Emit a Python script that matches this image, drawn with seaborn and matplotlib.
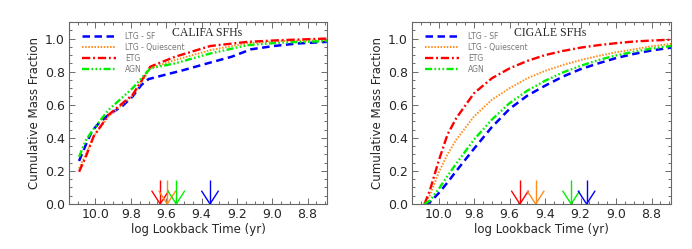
import numpy as np
import pandas as pd
import matplotlib
matplotlib.use("Agg")
import matplotlib.pyplot as plt
from matplotlib.ticker import MultipleLocator
import seaborn as sns

sns.set_style("ticks")
plt.rcParams['font.family'] = ['DejaVu Sans']

# ---------------- data ----------------
series_names = ["LTG - SF", "LTG - Quiescent", "ETG", "AGN"]
series_colors = ["#0000FF", "#FF8C1A", "#FF0000", "#00EE00"]

# CALIFA (left panel)
califa_x = {
    "LTG - SF":        [10.093, 10.05, 10.02, 9.98, 9.925, 9.85, 9.79, 9.74, 9.70, 9.61, 9.50, 9.35, 9.23, 9.12, 8.99, 8.86, 8.69],
    "LTG - Quiescent": [10.093, 10.055, 10.01, 9.925, 9.79, 9.69, 9.55, 9.35, 9.14, 8.96, 8.69],
    "ETG":             [10.093, 10.055, 10.01, 9.925, 9.79, 9.69, 9.55, 9.35, 9.14, 8.96, 8.69],
    "AGN":             [10.093, 10.055, 10.01, 9.925, 9.79, 9.69, 9.55, 9.35, 9.14, 8.96, 8.69],
}
califa_y = {
    "LTG - SF":        [0.26, 0.37, 0.44, 0.49, 0.54, 0.59, 0.65, 0.72, 0.755, 0.78, 0.81, 0.855, 0.89, 0.935, 0.955, 0.97, 0.98],
    "LTG - Quiescent": [0.215, 0.30, 0.41, 0.53, 0.655, 0.82, 0.87, 0.93, 0.972, 0.985, 0.99],
    "ETG":             [0.195, 0.285, 0.41, 0.54, 0.66, 0.83, 0.89, 0.955, 0.98, 0.99, 1.0],
    "AGN":             [0.285, 0.385, 0.455, 0.57, 0.70, 0.82, 0.85, 0.91, 0.96, 0.975, 0.985],
}
califa_arrows = [9.634, 9.594, 9.543, 9.352]  # order: ETG, LTG-Q, AGN, LTG-SF
califa_arrow_names = ["ETG", "LTG - Quiescent", "AGN", "LTG - SF"]

# CIGALE (right panel)
cigale_xgrid = [10.08, 10.05, 10.0, 9.95, 9.9, 9.8, 9.7, 9.6, 9.5, 9.4, 9.3, 9.2, 9.1, 9.0, 8.9, 8.8, 8.69]
cigale_y = {
    "LTG - SF":        [0.0, 0.01, 0.065, 0.13, 0.20, 0.335, 0.465, 0.575, 0.655, 0.715, 0.77, 0.815, 0.85, 0.882, 0.907, 0.928, 0.945],
    "LTG - Quiescent": [0.0, 0.05, 0.19, 0.30, 0.39, 0.53, 0.63, 0.70, 0.76, 0.805, 0.84, 0.87, 0.895, 0.917, 0.935, 0.953, 0.968],
    "ETG":             [0.0, 0.08, 0.26, 0.42, 0.52, 0.67, 0.76, 0.82, 0.865, 0.90, 0.925, 0.945, 0.96, 0.972, 0.982, 0.988, 0.993],
    "AGN":             [0.0, 0.02, 0.09, 0.17, 0.245, 0.39, 0.51, 0.61, 0.685, 0.745, 0.795, 0.835, 0.87, 0.898, 0.92, 0.94, 0.955],
}
cigale_arrows = [9.542, 9.453, 9.253, 9.166]
cigale_arrow_names = ["ETG", "LTG - Quiescent", "AGN", "LTG - SF"]

titles = ["CALIFA SFHs", "CIGALE SFHs"]
xticks = [10.0, 9.8, 9.6, 9.4, 9.2, 9.0, 8.8]
yticks = [0.0, 0.2, 0.4, 0.6, 0.8, 1.0]

# ---------------- style ----------------
styles = {
    "LTG - SF": dict(lw=1.8, dashes=(3.0, 1.8)),
    "LTG - Quiescent": dict(lw=1.4, dashes=(0.8, 0.8)),
    "ETG": dict(lw=1.7, dashes=(3.5, 1.2, 0.8, 1.2)),
    "AGN": dict(lw=1.7, dashes=(3.0, 1.0, 0.7, 1.0, 0.7, 1.0, 0.7, 1.0)),
}
color_of = dict(zip(series_names, series_colors))

fig = plt.figure(figsize=(6.92, 2.49), dpi=100)
ax1 = fig.add_axes([0.0997, 0.1807, 0.3728, 0.7309])
ax2 = fig.add_axes([0.5954, 0.1807, 0.3743, 0.7309])

arrow_top = 0.145
wing_dx = 0.047
wing_dy = 0.078


def draw_panel(ax, xs_of, ys_of, arrows, arrow_names, title):
    for name in series_names:
        df = pd.DataFrame({"x": xs_of[name], "y": ys_of[name]})
        sns.lineplot(data=df, x="x", y="y", ax=ax, color=color_of[name],
                     label=name, sort=False, estimator=None,
                     linewidth=styles[name]["lw"])
        ln = ax.lines[-1]
        ln.set_dashes(styles[name]["dashes"])
    for xa, nm in zip(arrows, arrow_names):
        c = color_of[nm]
        ax.plot([xa, xa], [0, arrow_top], color=c, lw=1.0, solid_capstyle='butt')
        ax.plot([xa + wing_dx, xa, xa - wing_dx], [wing_dy, 0, wing_dy], color=c, lw=1.0)
    ax.set_xlim(10.15, 8.69)
    ax.set_ylim(0.0, 1.1)
    ax.set_xticks(xticks)
    ax.set_yticks(yticks)
    ax.set_xticklabels([f"{t:.1f}" for t in xticks])
    ax.set_yticklabels([f"{t:.1f}" for t in yticks])
    ax.xaxis.set_minor_locator(MultipleLocator(0.05))
    ax.yaxis.set_minor_locator(MultipleLocator(0.05))
    ax.tick_params(which='both', direction='in', top=True, right=True,
                   width=0.6, color='#555555', labelsize=9, pad=3)
    ax.tick_params(which='major', length=4)
    ax.tick_params(which='minor', length=2)
    for sp in ax.spines.values():
        sp.set_visible(True)
        sp.set_linewidth(0.8)
        sp.set_color('#666666')
    ax.set_xlabel("log Lookback Time (yr)", fontsize=8.5, labelpad=1)
    ax.set_ylabel("Cumulative Mass Fraction", fontsize=8.5, labelpad=3)
    ax.text(0.535, 0.94, title, transform=ax.transAxes, ha='center', va='center',
            fontsize=8.5, family='Liberation Serif')
    leg = ax.legend(loc='upper left', bbox_to_anchor=(0.052, 0.945), frameon=False,
                    fontsize=5.5, handlelength=4.4, handletextpad=1.2,
                    labelspacing=0.25, borderpad=0, borderaxespad=0)
    for t in leg.get_texts():
        t.set_color('#777777')


draw_panel(ax1, califa_x, califa_y, califa_arrows, califa_arrow_names, titles[0])
draw_panel(ax2, {n: cigale_xgrid for n in series_names}, cigale_y,
           cigale_arrows, cigale_arrow_names, titles[1])

fig.savefig("out.png", dpi=100, facecolor='white')
